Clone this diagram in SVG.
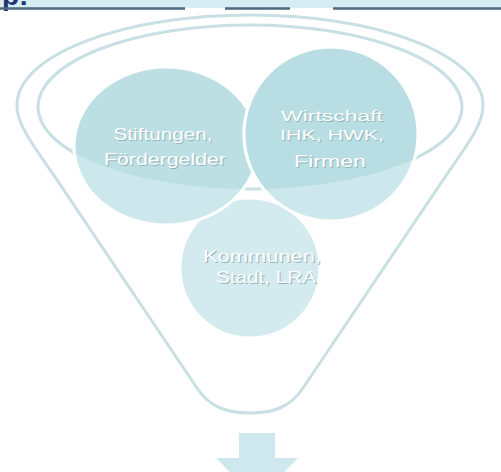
<svg xmlns="http://www.w3.org/2000/svg" width="501" height="472" viewBox="0 0 501 472">
<defs>
<clipPath id="inner"><ellipse cx="250" cy="107" rx="212" ry="82"/></clipPath>
</defs>
<style>
.fun{fill:none;stroke:#c8dfe3;stroke-width:3}
.cl{stroke:#fff;stroke-width:3}
.lbl{font-family:"Liberation Sans",Arial,sans-serif;font-size:17px;fill:#fff;text-anchor:middle}
.sm{font-size:15px}
.sh{fill:#93b3b9}
.rule{stroke:#4b6a80;stroke-width:2.5}
</style>
<rect x="0" y="0" width="501" height="472" fill="#fff"/>
<rect x="0" y="0" width="501" height="8" fill="#d6edf3"/>
<text x="2" y="5" style="font-family:'Liberation Sans',Arial,sans-serif;font-size:28px;font-weight:bold;fill:#1f3370">p:</text>
<g id="rule">
<line class="rule" x1="0" y1="8.5" x2="185" y2="8.5"/>
<line class="rule" x1="225" y1="8.5" x2="290" y2="8.5"/>
<line class="rule" x1="333" y1="8.5" x2="501" y2="8.5"/>
</g>
<g id="funnel">
<path class="fun" d="M17,105 A233,90 0 0 1 483,105 C484,125 463,150 443,180 L303,388 C290,408 272,413 250,413 C228,413 210,408 197,388 L57,180 C37,150 16,125 17,105 Z"/>
<ellipse class="fun" cx="250" cy="107" rx="212" ry="82"/>
</g>
<g id="node-kommunen">
<circle class="cl" cx="250" cy="268" r="70" fill="#d3eaee"/>
<text class="lbl sh" x="263" y="263" textLength="118" lengthAdjust="spacingAndGlyphs">Kommunen,</text>
<text class="lbl" x="262" y="262" textLength="118" lengthAdjust="spacingAndGlyphs">Kommunen,</text>
<text class="lbl sh" x="267" y="284" textLength="100" lengthAdjust="spacingAndGlyphs">Stadt, LRA</text>
<text class="lbl" x="266" y="283" textLength="100" lengthAdjust="spacingAndGlyphs">Stadt, LRA</text>
</g>
<g id="node-stiftungen">
<ellipse class="cl" cx="166" cy="146" rx="92" ry="79" fill="#cde8ec"/>
<ellipse class="cl" cx="166" cy="146" rx="92" ry="79" fill="#bcdfe3" clip-path="url(#inner)"/>
<text class="lbl sh" x="164" y="141" textLength="99" lengthAdjust="spacingAndGlyphs">Stiftungen,</text>
<text class="lbl" x="163" y="140" textLength="99" lengthAdjust="spacingAndGlyphs">Stiftungen,</text>
<text class="lbl sh" x="166" y="166" textLength="122" lengthAdjust="spacingAndGlyphs">Fördergelder</text>
<text class="lbl" x="165" y="165" textLength="122" lengthAdjust="spacingAndGlyphs">Fördergelder</text>
</g>
<g id="node-wirtschaft">
<circle class="cl" cx="331" cy="134" r="87" fill="#cde8ec"/>
<circle class="cl" cx="331" cy="134" r="87" fill="#b8dde2" clip-path="url(#inner)"/>
<text class="lbl sm sh" x="333" y="122" textLength="102" lengthAdjust="spacingAndGlyphs">Wirtschaft</text>
<text class="lbl sm" x="332" y="121" textLength="102" lengthAdjust="spacingAndGlyphs">Wirtschaft</text>
<text class="lbl sm sh" x="333" y="141" textLength="104" lengthAdjust="spacingAndGlyphs">IHK, HWK,</text>
<text class="lbl sm" x="332" y="140" textLength="104" lengthAdjust="spacingAndGlyphs">IHK, HWK,</text>
<text class="lbl sh" x="331" y="168" textLength="72" lengthAdjust="spacingAndGlyphs">Firmen</text>
<text class="lbl" x="330" y="167" textLength="72" lengthAdjust="spacingAndGlyphs">Firmen</text>
</g>
<g id="arrow">
<path d="M239,433 L275,433 L275,458 L298,458 L257,500 L216,458 L239,458 Z" fill="#cfe7ee"/>
</g>
</svg>
